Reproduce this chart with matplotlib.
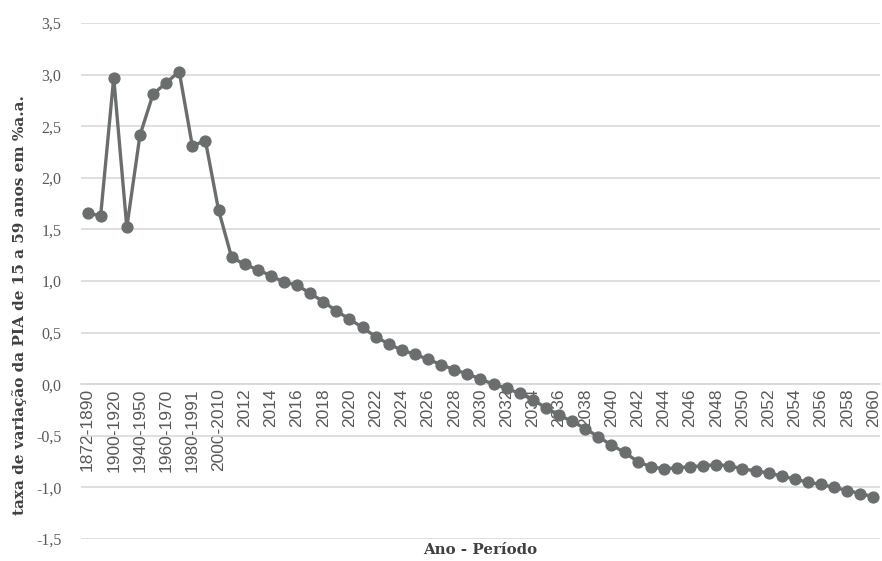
import matplotlib
matplotlib.use('Agg')
import matplotlib.pyplot as plt


periods = ['1872-1890', '1890-1900', '1900-1920', '1920-1940', '1940-1950',
           '1950-1960', '1960-1970', '1970-1980', '1980-1991', '1991-2000',
           '2000-2010']
years = [str(y) for y in range(2011, 2061)]
categories = periods + years

period_values = [1.66, 1.63, 2.97, 1.52, 2.41, 2.81, 2.92, 3.03, 2.31, 2.36, 1.69]
year_values = [1.23, 1.16, 1.11, 1.05, 0.99, 0.96, 0.88, 0.80, 0.71, 0.63,
               0.55, 0.46, 0.39, 0.33, 0.29, 0.24, 0.19, 0.14, 0.10, 0.05,
               0.00, -0.04, -0.09, -0.15, -0.23, -0.30, -0.36, -0.43, -0.51, -0.59,
               -0.66, -0.75, -0.80, -0.82, -0.81, -0.80, -0.79, -0.78, -0.79, -0.82,
               -0.84, -0.86, -0.89, -0.92, -0.95, -0.97, -1.00, -1.03, -1.06, -1.09]
values = period_values + year_values

yticks = [-1.5, -1.0, -0.5, 0.0, 0.5, 1.0, 1.5, 2.0, 2.5, 3.0, 3.5]
ytick_labels = [f'{v:.1f}'.replace('.', ',') for v in yticks]

fig = plt.figure(figsize=(8.82, 5.61), dpi=100)
ax = fig.add_axes([0.0918, 0.0392, 0.9059, 0.9198])

# category axis crosses at zero, like the spreadsheet chart
for s in ['top', 'right', 'left']:
    ax.spines[s].set_visible(False)
ax.spines['bottom'].set_position(('data', 0))
ax.spines['bottom'].set_color('#d9d9d9')
ax.spines['bottom'].set_linewidth(1.2)

x = list(range(len(categories)))
ax.plot(x, values, color='#6b6e6e', linewidth=2.4, marker='o', markersize=7.8,
        zorder=3)

ax.set_xlim(-0.5, len(categories) - 0.5)
ax.set_ylim(-1.5, 3.5)
ax.set_yticks(yticks)
ax.set_yticklabels(ytick_labels, fontfamily='Liberation Serif', fontsize=11.5,
                   color='#595959')
ax.yaxis.grid(True, color='#d9d9d9', linewidth=1.2)
ax.set_axisbelow(True)

ax.set_xticks(x[::2])
ax.set_xticklabels(categories[::2], rotation=90, fontfamily='Liberation Sans',
                   fontsize=12.5, color='#595959', va='top', ha='center')
ax.tick_params(axis='both', length=0)
ax.tick_params(axis='x', pad=3)
ax.tick_params(axis='y', pad=14)

fig.text(0.544, 0.019, 'Ano - Período', ha='center', va='center',
         fontfamily='DejaVu Serif', fontweight='bold', fontsize=10.8,
         color='#404040')
fig.text(0.022, 0.457, 'taxa de variação da PIA de 15 a 59 anos em %a.a.',
         ha='center', va='center', rotation=90, fontfamily='DejaVu Serif',
         fontweight='bold', fontsize=11.0, color='#404040')

fig.savefig('out.png', dpi=100)
